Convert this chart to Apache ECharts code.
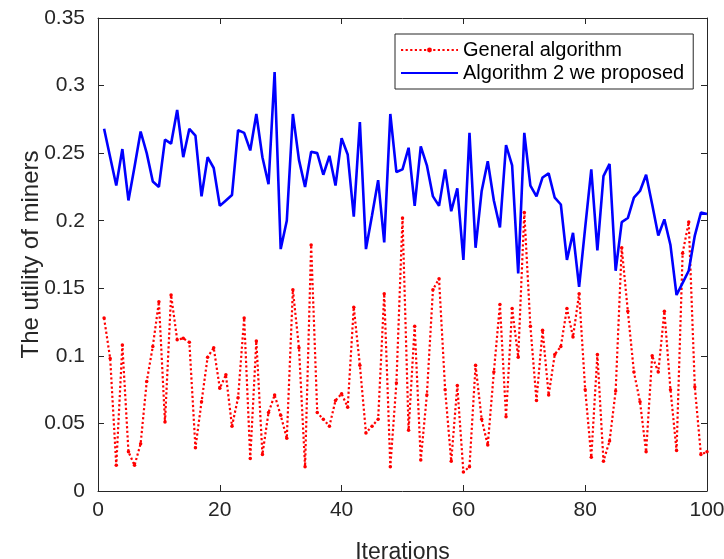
<!DOCTYPE html>
<html>
<head>
<meta charset="utf-8">
<script src="https://cdn.jsdelivr.net/npm/echarts@6/dist/echarts.min.js"></script>
<style>
html,body{margin:0;padding:0;background:#fff;}
#chart{width:724px;height:559px;}
</style>
</head>
<body>
<div id="chart"></div>
<script>
// Iteration indices (categories)
var iterations = Array.from({length: 100}, function (_, i) { return i + 1; });

var generalAlgorithm = [
  0.128, 0.098, 0.019, 0.108, 0.029, 0.019, 0.035, 0.081, 0.107, 0.140,
  0.051, 0.145, 0.112, 0.113, 0.110, 0.032, 0.066, 0.099, 0.106, 0.076,
  0.086, 0.048, 0.069, 0.128, 0.024, 0.111, 0.027, 0.058, 0.071, 0.056,
  0.039, 0.149, 0.106, 0.018, 0.182, 0.058, 0.053, 0.048, 0.067, 0.072,
  0.062, 0.136, 0.093, 0.043, 0.048, 0.053, 0.146, 0.018, 0.080, 0.202,
  0.045, 0.122, 0.023, 0.071, 0.149, 0.157, 0.075, 0.022, 0.078, 0.014,
  0.018, 0.093, 0.053, 0.034, 0.088, 0.138, 0.055, 0.135, 0.099, 0.206,
  0.122, 0.067, 0.119, 0.071, 0.101, 0.107, 0.135, 0.114, 0.146, 0.075,
  0.025, 0.101, 0.022, 0.037, 0.074, 0.180, 0.133, 0.088, 0.066, 0.029,
  0.100, 0.088, 0.133, 0.075, 0.030, 0.176, 0.199, 0.077, 0.027, 0.029
];

var proposedAlgorithm = [
  0.268, 0.247, 0.226, 0.253, 0.215, 0.240, 0.266, 0.250, 0.229, 0.225,
  0.260, 0.257, 0.282, 0.247, 0.268, 0.263, 0.218, 0.247, 0.239, 0.211,
  0.215, 0.219, 0.267, 0.265, 0.252, 0.279, 0.247, 0.227, 0.310, 0.179,
  0.200, 0.279, 0.245, 0.225, 0.251, 0.250, 0.234, 0.248, 0.226, 0.261,
  0.249, 0.203, 0.273, 0.179, 0.204, 0.230, 0.184, 0.279, 0.236, 0.238,
  0.254, 0.211, 0.255, 0.241, 0.218, 0.211, 0.238, 0.207, 0.224, 0.171,
  0.265, 0.180, 0.222, 0.244, 0.215, 0.195, 0.256, 0.241, 0.161, 0.265,
  0.226, 0.218, 0.232, 0.235, 0.217, 0.212, 0.171, 0.191, 0.151, 0.195,
  0.238, 0.178, 0.233, 0.242, 0.163, 0.199, 0.202, 0.217, 0.222, 0.234,
  0.212, 0.189, 0.201, 0.182, 0.145, 0.154, 0.163, 0.189, 0.206, 0.205
];

var seriesNames = ['General algorithm', 'Algorithm 2 we proposed'];
var xTickLabels = ['0', '20', '40', '60', '80', '100'];
var yTickLabels = ['0', '0.05', '0.1', '0.15', '0.2', '0.25', '0.3', '0.35'];
var xAxisTitle = 'Iterations';
var yAxisTitle = 'The utility of miners';

function pairs(vals) {
  return vals.map(function (v, i) { return [iterations[i], v]; });
}

var axisColor = '#262626';
var fontFamily = '"Liberation Sans", Arial, Helvetica, sans-serif';

var chart = echarts.init(document.getElementById('chart'), null, {renderer: 'canvas'});
chart.setOption({
  animation: false,
  backgroundColor: '#ffffff',
  textStyle: {fontFamily: fontFamily, color: axisColor},
  grid: {left: 98, right: 17, top: 18, bottom: 68, containLabel: false, outerBoundsMode: 'none'},
  legend: {
    orient: 'vertical',
    left: 395,
    top: 34,
    data: [
      {name: seriesNames[0]},
      {name: seriesNames[1], itemStyle: {opacity: 0}}
    ],
    itemWidth: 57,
    itemHeight: 6,
    itemGap: 3,
    padding: [6, 9, 6, 5],
    borderColor: axisColor,
    borderWidth: 1,
    backgroundColor: '#ffffff',
    textStyle: {fontSize: 20, color: '#000000', fontFamily: fontFamily}
  },
  xAxis: [{
    type: 'value', min: 0, max: 100, interval: 20, position: 'bottom',
    name: xAxisTitle, nameLocation: 'middle', nameGap: 50, nameMoveOverlap: false,
    nameTextStyle: {fontSize: 23, color: axisColor, fontFamily: fontFamily},
    axisLine: {show: true, onZero: false, lineStyle: {color: axisColor, width: 1}},
    axisTick: {show: true, inside: true, length: 6, lineStyle: {color: axisColor}},
    axisLabel: {fontSize: 21, color: axisColor, margin: 9, fontFamily: fontFamily,
      formatter: function (v) { return xTickLabels[Math.round(v / 20)]; }},
    splitLine: {show: false}
  }, {
    type: 'value', min: 0, max: 100, interval: 20, position: 'top',
    axisLine: {show: true, onZero: false, lineStyle: {color: axisColor, width: 1}},
    axisTick: {show: true, inside: true, length: 6, lineStyle: {color: axisColor}},
    axisLabel: {show: false},
    splitLine: {show: false}
  }],
  yAxis: [{
    type: 'value', min: 0, max: 0.35, interval: 0.05, position: 'left',
    name: yAxisTitle, nameLocation: 'middle', nameGap: 55, nameRotate: 90, nameMoveOverlap: false,
    nameTextStyle: {fontSize: 24, color: axisColor, fontFamily: fontFamily},
    axisLine: {show: true, onZero: false, lineStyle: {color: axisColor, width: 1}},
    axisTick: {show: true, inside: true, length: 6, lineStyle: {color: axisColor}},
    axisLabel: {fontSize: 21, color: axisColor, margin: 13, fontFamily: fontFamily,
      formatter: function (v) { return yTickLabels[Math.round(v / 0.05)]; }},
    splitLine: {show: false}
  }, {
    type: 'value', min: 0, max: 0.35, interval: 0.05, position: 'right',
    axisLine: {show: true, onZero: false, lineStyle: {color: axisColor, width: 1}},
    axisTick: {show: true, inside: true, length: 6, lineStyle: {color: axisColor}},
    axisLabel: {show: false},
    splitLine: {show: false}
  }],
  series: [{
    name: seriesNames[0],
    type: 'line',
    xAxisIndex: 0, yAxisIndex: 0,
    data: pairs(generalAlgorithm),
    symbol: 'circle',
    symbolSize: 3.5,
    showSymbol: true,
    itemStyle: {color: '#ff0000'},
    lineStyle: {color: '#ff0000', width: 2.2, type: [2.2, 2.4]},
    z: 2
  }, {
    name: seriesNames[1],
    type: 'line',
    xAxisIndex: 0, yAxisIndex: 0,
    data: pairs(proposedAlgorithm),
    symbol: 'none',
    itemStyle: {color: '#0000ff'},
    lineStyle: {color: '#0000ff', width: 2.6},
    z: 3
  }]
});
</script>
</body>
</html>
